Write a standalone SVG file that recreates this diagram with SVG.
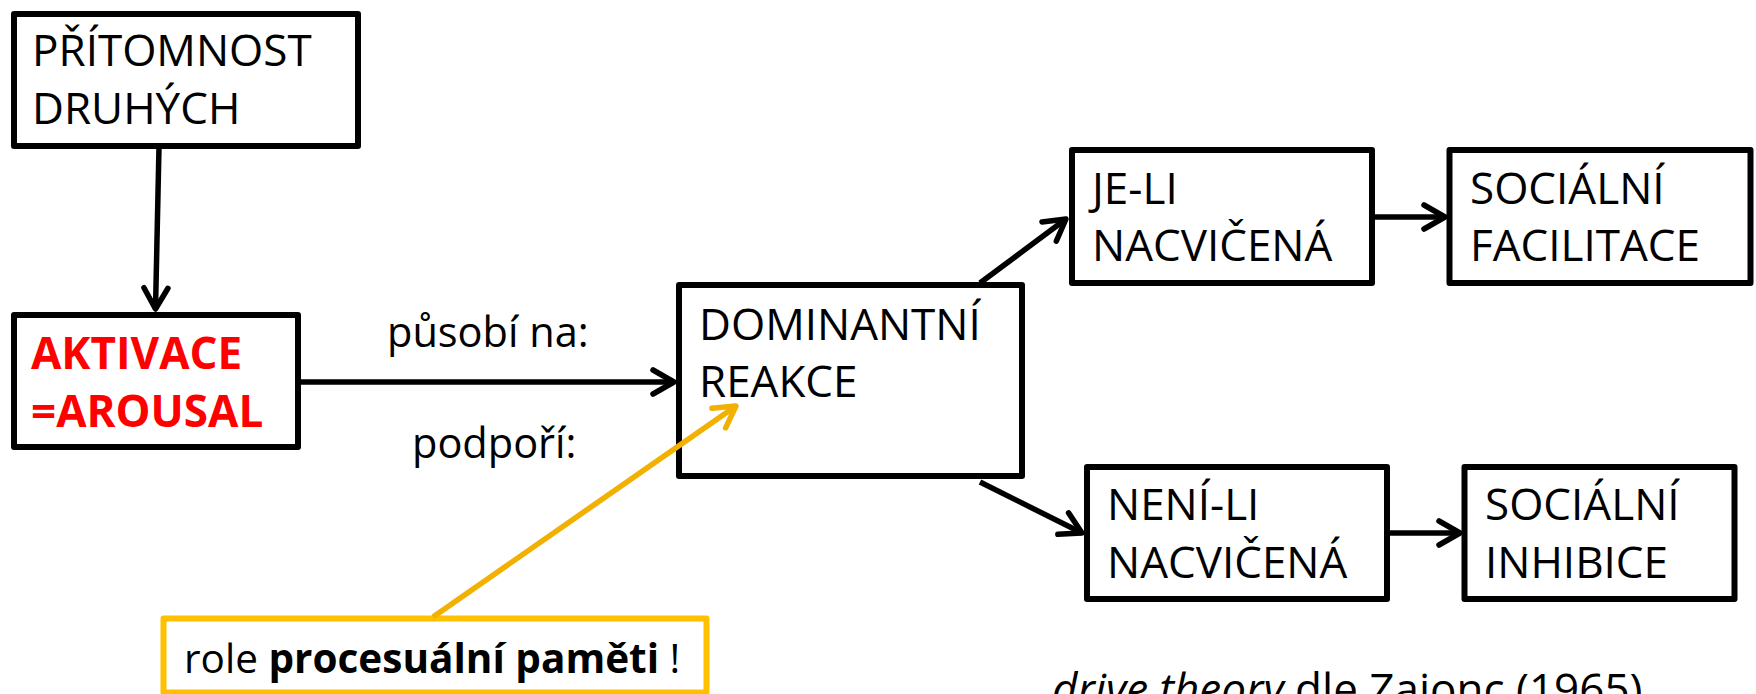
<svg xmlns="http://www.w3.org/2000/svg" width="1756" height="694" viewBox="0 0 1756 694">
<style>
.box{fill:#fff;stroke:#000;stroke-width:6;stroke-linejoin:round}
.ybox{fill:#fff;stroke:#FFC000;stroke-width:6;stroke-linejoin:round}
.t{font-family:"Open Sans","Noto Sans","Liberation Sans",sans-serif;font-size:44px;fill:#000}
.lbl{font-size:41.5px}
.note{font-size:40.5px}
.red{fill:#FF0000;font-weight:bold}
.b{font-weight:bold}
.conn{fill:none;stroke:#000;stroke-width:5.5}
.yconn{fill:none;stroke:#F2B000;stroke-width:5.5}
</style>
<defs>
<marker id="ah" viewBox="-26 -15 30 30" refX="0" refY="0" markerWidth="30" markerHeight="30" markerUnits="userSpaceOnUse" orient="auto">
<path d="M-21,-12 L0,0 L-21,12" fill="none" stroke="#000" stroke-width="5.5" stroke-linecap="round" stroke-linejoin="round"/>
</marker>
<marker id="ahy" viewBox="-26 -15 30 30" refX="0" refY="0" markerWidth="30" markerHeight="30" markerUnits="userSpaceOnUse" orient="auto">
<path d="M-21,-12 L0,0 L-21,12" fill="none" stroke="#F2B000" stroke-width="5.5" stroke-linecap="round" stroke-linejoin="round"/>
</marker>
</defs>
<rect width="1756" height="694" fill="#fff"/>
<g id="n-pritomnost">
<rect class="box" x="14" y="14" width="344" height="132"/>
<text class="t" x="32" y="66">PŘÍTOMNOST</text>
<text class="t" x="32" y="124">DRUHÝCH</text>
</g>
<g id="n-aktivace">
<rect class="box" x="14" y="315" width="284" height="132"/>
<text class="t red" x="31" y="369">AKTIVACE</text>
<text class="t red" x="31" y="427">=AROUSAL</text>
</g>
<g id="labels">
<text class="t lbl" x="387" y="347">působí na:</text>
<text class="t lbl" x="412" y="458">podpoří:</text>
</g>
<g id="n-dominantni">
<rect class="box" x="679" y="285" width="343" height="191"/>
<text class="t" x="699" y="340">DOMINANTNÍ</text>
<text class="t" x="699" y="397">REAKCE</text>
</g>
<g id="n-jeli">
<rect class="box" x="1072" y="150" width="300" height="133"/>
<text class="t" x="1092" y="204">JE-LI</text>
<text class="t" x="1092" y="261">NACVIČENÁ</text>
</g>
<g id="n-facilitace">
<rect class="box" x="1449.5" y="150" width="301" height="133"/>
<text class="t" x="1470" y="204">SOCIÁLNÍ</text>
<text class="t" x="1470" y="261">FACILITACE</text>
</g>
<g id="n-neni">
<rect class="box" x="1087" y="467" width="300" height="132"/>
<text class="t" x="1107" y="520">NENÍ-LI</text>
<text class="t" x="1107" y="578">NACVIČENÁ</text>
</g>
<g id="n-inhibice">
<rect class="box" x="1464.5" y="467" width="270" height="132"/>
<text class="t" x="1485" y="520">SOCIÁLNÍ</text>
<text class="t" x="1485" y="578">INHIBICE</text>
</g>
<g id="n-role">
<rect class="ybox" x="163.5" y="618.5" width="543" height="74"/>
<text class="t note" x="184" y="673">role <tspan class="b">procesuální paměti</tspan> !</text>
</g>
<g id="caption">
<text class="t" x="1052" y="705"><tspan font-style="italic">drive theory</tspan> dle Zajonc (1965)</text>
</g>
<g id="connectors">
<line class="conn" x1="159" y1="147" x2="155.5" y2="309" marker-end="url(#ah)"/>
<line class="conn" x1="298" y1="382" x2="674" y2="382" marker-end="url(#ah)"/>
<line class="conn" x1="980" y1="283" x2="1066" y2="219" marker-end="url(#ah)"/>
<line class="conn" x1="980" y1="482" x2="1082" y2="533" marker-end="url(#ah)"/>
<line class="conn" x1="1372" y1="217" x2="1445" y2="217" marker-end="url(#ah)"/>
<line class="conn" x1="1387" y1="533" x2="1460" y2="533" marker-end="url(#ah)"/>
<line class="yconn" x1="433" y1="617" x2="736" y2="406" marker-end="url(#ahy)"/>
</g>
</svg>
